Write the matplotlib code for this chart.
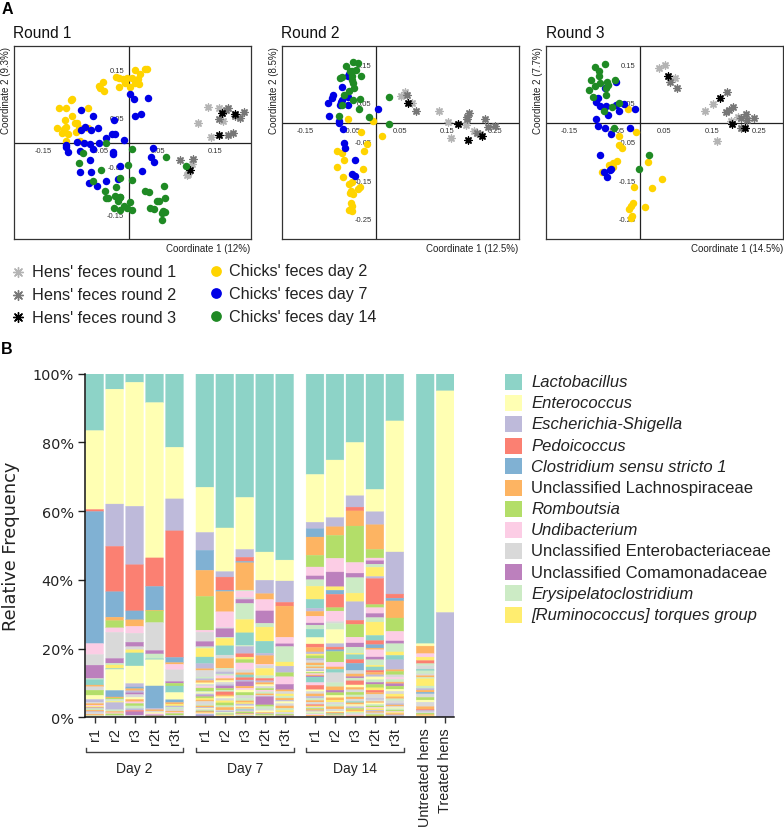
import matplotlib
matplotlib.use("Agg")
import matplotlib.pyplot as plt
import numpy as np

plt.rcParams["font.family"] = ["Liberation Sans", "DejaVu Sans"]

W, H = 784, 828

# panel A, coordinates
r1_day2_x = [.010, .028, .031, .019, -.023, -.017, -.010, -.004, .005, .015, -.007, -.017, .001, .010, .018, -.046, -.053, -.051, -.043, -.099, -.102, -.122, -.109, -.072, -.099, -.112, -.095, -.090, -.126, -.110, -.114, -.117, -.107, -.092, -.087, -.072, -.110, -.085]
r1_day2_y = [.152, .154, .154, .143, .137, .135, .132, .134, .134, .132, .124, .115, .115, .124, .121, .127, .117, .113, .107, .092, .088, .072, .072, .073, .056, .048, .041, .041, .032, .034, .029, .021, .019, .023, .030, .030, .005, .005]
r1_day7_x = [.002, .009, .033, .010, .020, -.083, -.063, -.027, -.077, -.083, -.067, -.054, -.030, -.024, -.040, -.009, -.091, -.110, -.110, -.078, -.068, -.053, -.063, -.085, -.107, -.068, -.085, -.066, -.028, -.028, -.016, .041, .038, .044, .023, -.041, -.069, -.055, -.019]
r1_day7_y = [.101, .091, .094, .055, .059, .068, .056, .047, .033, .026, .026, .032, .019, .019, .011, .006, .003, -.004, -.008, -.001, -.002, 0, -.012, -.016, -.019, -.036, -.059, -.059, -.018, -.023, -.048, -.011, -.030, -.039, -.058, -.079, -.083, -.089, -.075]
r1_day14_x = [-.041, .006, -.081, -.088, -.002, .065, .099, -.049, -.016, -.063, .006, -.042, -.022, .028, .034, .061, -.040, -.036, -.024, -.020, -.016, -.020, -.015, .048, .052, .063, .002, -.026, -.009, -.015, -.004, .006, .037, .044, .059, .058, .062, .058]
r1_day14_y = [-.001, -.013, -.021, -.041, -.046, -.030, -.047, -.056, -.072, -.079, -.076, -.100, -.092, -.099, -.101, -.088, -.114, -.114, -.109, -.116, -.112, -.119, -.111, -.121, -.119, -.114, -.123, -.135, -.130, -.139, -.135, -.138, -.134, -.137, -.140, -.145, -.143, -.159]
r1_hen1_x = [.138, .156, .121, .142, .163, .101, .103, .110]
r1_hen1_y = [.074, .072, .041, .013, .046, -.066, -.064, -.043]
r1_hen2_x = [.172, .169, .156, .184, .194, .201, .172, .181, .088, .112]
r1_hen2_y = [.072, .068, .050, .055, .051, .065, .017, .021, -.036, -.034]
r1_hen3_x = [.162, .185, .157, .106]
r1_hen3_y = [.062, .061, .016, -.056]

r2_day2_x = [-.060, -.006, -.032, .012, -.020, -.025, -.082, -.073, -.068, -.083, -.027, -.070, -.058, -.051, -.053, -.038, -.034, -.055, -.048, -.053, -.052, -.058, -.050]
r2_day2_y = [.011, .007, -.022, -.034, -.054, -.071, -.071, -.078, -.095, -.114, -.118, -.138, -.156, -.153, -.174, -.170, -.166, -.180, -.183, -.207, -.213, -.224, -.226]
r2_day7_x = [-.058, -.059, -.072, -.091, -.093, -.102, -.073, -.074, -.059, -.076, -.060, .003, -.100, -.078, -.079, -.069, -.067, -.065, -.044, -.051, -.044]
r2_day7_y = [.128, .122, .093, .072, .065, .052, .061, .056, .069, .047, .047, .037, .020, .005, 0, -.016, -.052, -.064, -.095, -.131, -.136]
r2_day14_x = [-.049, -.038, -.064, -.043, -.055, -.052, -.050, -.032, -.072, -.076, -.050, -.048, -.047, -.058, -.067, -.034, -.049, -.036, -.071, -.079, -.015, .027, .027]
r2_day14_y = [.159, .155, .149, .139, .136, .134, .123, .122, .119, .116, .112, .103, .092, .083, .073, .063, .059, .038, .047, .019, .017, .068, -.003]
r2_hen1_x = [.052, .060, .076, .133, .152, .158, .190, .205]
r2_hen1_y = [.071, .082, .053, .032, .004, -.039, -.004, -.019]
r2_hen2_x = [.065, .083, .195, .192, .191, .228, .236, .250, .213, .218]
r2_hen2_y = [.072, .031, .027, .015, .011, .010, -.009, -.008, -.026, -.028]
r2_hen3_x = [.067, .172, .194, .223]
r2_hen3_y = [.053, -.001, -.042, -.032]

r3_day2_x = [-.026, -.010, -.046, -.045, -.039, .015, -.050, -.057, -.067, -.057, -.082, .046, -.013, .025, .009, -.016, -.020, -.025, -.017, -.020]
r3_day2_y = [.037, -.023, -.034, -.056, -.063, -.100, -.098, -.104, -.107, -.114, -.127, -.144, -.166, -.168, -.216, -.206, -.213, -.222, -.239, -.245]
r3_day7_x = [-.052, -.075, -.090, -.094, -.085, -.073, -.052, -.034, -.046, -.012, -.069, -.093, -.090, -.075, -.023, -.062, -.085, -.062, -.065, -.077, -.070]
r3_day7_y = [.107, .090, .066, .054, .045, .044, .047, .050, .033, .036, .022, .010, -.008, -.012, -.011, -.029, -.083, -.117, -.122, -.127, -.140]
r3_day14_x = [-.075, -.095, -.087, -.088, -.104, -.053, -.086, -.095, -.071, -.069, -.073, -.109, -.073, -.101, -.076, -.060, -.045, -.055, .018, -.003]
r3_day14_y = [.152, .145, .136, .122, .112, .111, .104, .097, .106, .099, .091, .087, .072, .069, .033, .041, .053, -.012, -.082, -.118]
r3_hen1_x = [.040, .052, .072, .135, .153, .161, .191, .206]
r3_hen1_y = [.142, .151, .116, .032, .049, -.046, .006, .015]
r3_hen2_x = [.063, .077, .183, .194, .187, .181, .222, .211, .225, .240, .211]
r3_hen2_y = [.107, .091, .081, .041, .035, .029, .024, .013, .009, .014, -.012]
r3_hen3_x = [.058, .168, .193, .221]
r3_hen3_y = [.122, .066, -.003, -.012]

# panel B, (taxon colour index, percent) from the top of each bar downwards
taxa = ["Lactobacillus", "Enterococcus", "Escherichia-Shigella", "Pedoicoccus",
        "Clostridium sensu stricto 1", "Unclassified Lachnospiraceae", "Romboutsia",
        "Undibacterium", "Unclassified Enterobacteriaceae", "Unclassified Comamonadaceae",
        "Erysipelatoclostridium", "[Ruminococcus] torques group"]
taxa_italic = [True, True, True, True, True, False, True, True, False, False, True, True]
palette = ["#8dd3c7", "#ffffb3", "#bebada", "#fb8072", "#80b1d3", "#fdb462",
           "#b3de69", "#fccde5", "#d9d9d9", "#bc80bd", "#ccebc5", "#ffed6f"]

d2_r1 = [(0, 16.6), (1, 23), (3, .6), (4, 38.5), (7, 3.2), (8, 3.1), (9, 3.9), (10, .3), (0, 1.6), (5, .5), (8, 1), (6, 1.5), (1, 1.2), (2, .8), (8, .4), (5, .5), (7, .3), (11, .4), (9, .2), (10, .5), (5, .4), (2, .3), (8, .5), (5, .4), (10, .3), (8, .2)]
d2_r2 = [(0, 4.5), (1, 33.4), (2, 12.3), (3, 13.2), (4, 7.4), (5, 1), (6, 2.1), (7, 1.3), (8, 7.6), (9, 1.4), (10, .5), (11, 1), (0, .3), (1, 6.1), (4, 1.9), (5, .3), (6, .4), (8, .3), (10, .3), (11, .3), (2, 2.1), (10, .5), (5, .4), (7, .3), (6, .5), (8, .5)]
d2_r3 = [(0, 2.5), (1, 36), (2, 17), (3, 13.4), (4, 2.6), (5, 1.9), (7, 2), (8, 2.6), (9, 1.3), (8, .9), (11, .9), (0, 3.8), (1, 5.1), (2, 1), (4, .5), (5, .6), (2, .6), (9, .5), (8, .8), (1, .6), (5, .7), (7, .5), (6, .7), (10, .8), (2, .5), (3, .4), (9, 1), (8, .6)]
d2_r2t = [(0, 8.4), (1, 45.1), (3, 8.3), (4, 6.9), (5, .2), (6, 3.4), (8, 8.1), (9, 1), (10, 1.4), (0, .3), (1, 7.6), (4, 6.5), (2, .4), (5, .4), (8, .4), (1, .4), (7, .3), (9, .3), (6, .4)]
d2_r3t = [(0, 21.4), (1, 15), (2, 9.3), (3, 36.8), (4, 1.5), (5, .5), (7, 1.6), (8, 3.4), (9, .5), (6, .8), (0, 1.9), (1, 2.1), (4, .8), (5, .5), (11, .5), (2, .4), (10, .5), (8, .6), (5, .4), (7, .3), (6, .5), (8, .6)]
d7_r1 = [(0, 33), (1, 13.1), (2, 5.2), (4, 5.8), (5, 7.6), (6, 9.8), (7, .6), (8, 2.7), (9, 1.5), (10, .5), (11, 2.5), (0, 1.9), (2, 1.5), (5, .5), (8, 1.9), (10, .5), (2, .5), (5, .7), (1, .4), (8, .6), (7, .5), (6, .9), (10, .4), (1, .4), (2, .5), (9, .3), (6, .5), (11, .5), (5, .4), (8, 1), (10, .3), (5, .4), (2, .3), (1, .3), (8, .4), (6, .3), (3, .2), (11, .3), (7, .3), (4, .3), (9, .2), (8, .3)]
d7_r2 = [(0, 44.9), (1, 12.7), (2, 1.6), (3, 3.8), (4, .4), (5, 5.9), (7, 4.6), (8, .3), (9, 2.5), (10, .3), (11, 2.2), (0, 2.7), (8, 1), (5, 2.8), (10, .3), (8, .8), (2, .6), (10, .5), (7, .8), (5, .6), (1, .5), (8, .7), (2, .4), (9, .7), (6, .5), (10, .5), (3, .9), (5, .5), (1, .5), (8, .7), (11, .6), (6, .8), (10, .5), (5, .5), (5, .3), (8, .3), (2, .3), (1, .2), (10, .3), (6, .3), (7, .2), (11, .2), (8, .3)]
d7_r3 = [(0, 36.2), (1, 15.2), (2, 2.3), (3, 1.2), (4, .4), (5, 8), (10, .3), (7, 1.9), (8, .5), (9, 1.2), (10, 4.7), (11, 3.9), (0, 3.6), (10, .4), (2, 2.1), (3, 1), (11, .7), (6, 1), (7, 2), (8, .9), (5, .6), (0, .8), (3, .7), (2, .5), (9, 1.3), (5, .6), (7, .5), (1, .7), (6, .9), (8, .8), (10, .8), (5, .5), (11, .4), (2, .3), (8, .4), (1, .3), (5, .4), (10, .3), (4, .3), (7, .3), (6, .4), (9, .2), (11, .3), (8, .4), (5, .3)]
d7_r2t = [(0, 51.8), (1, 8.2), (2, 3.9), (5, 1.7), (7, 3.3), (9, 3.6), (10, 1.1), (11, 4.1), (0, 3.5), (2, .7), (5, 2.5), (7, .3), (8, .9), (11, 2.1), (10, .8), (3, .7), (2, .5), (5, .6), (1, .5), (8, .6), (6, .5), (7, .5), (10, .6), (5, .4), (8, .4), (9, 2.4), (6, .5), (10, .7), (8, .5), (1, .5), (5, .3), (2, .2), (6, .3), (8, .2), (11, .2), (10, .2)]
d7_r3t = [(0, 54.3), (1, 6.1), (2, 6.2), (3, 1.1), (5, 9.1), (7, 1.9), (9, .8), (10, 4.5), (11, 1.2), (2, 1.9), (6, 1.2), (7, 2.2), (9, 1.6), (5, .5), (8, .7), (11, .6), (10, .6), (5, .6), (2, .4), (1, .6), (8, .7), (5, .7), (10, .6), (11, .5), (8, .6), (6, .3), (2, .2), (5, .2), (8, .2)]
d14_r1 = [(0, 29.3), (1, 13.9), (2, 1.9), (4, 2.4), (5, 5.3), (6, 3.4), (7, 2.6), (9, 1.1), (10, 1.9), (11, 3.8), (0, 2.6), (2, .9), (5, 1.4), (7, 2), (9, .6), (10, 1.2), (0, 2.4), (1, 1.9), (3, 1), (5, 1.3), (2, .6), (11, .5), (6, .8), (2, .6), (8, .7), (5, .7), (10, .4), (5, .4), (8, .5), (2, .4), (1, .3), (6, .4), (7, .4), (5, .3), (9, .3), (0, 1.6), (7, .8), (3, 1.3), (1, .5), (8, .7), (5, .7), (2, .6), (10, .6), (5, .5), (8, .7), (3, .4), (11, .3), (8, .4), (6, .3), (5, .4), (2, .3), (1, .3), (10, .4), (7, .3), (5, .3), (8, .3)]
d14_r2 = [(0, 25.2), (1, 16.8), (2, 2.7), (5, 2.5), (6, 6.7), (7, 4), (9, 4.3), (11, 1), (4, 1.2), (3, 3.9), (6, 1), (7, 3.1), (8, .5), (10, 1.8), (1, 4.1), (2, 1), (3, .8), (4, .5), (6, 3.1), (7, 1.4), (5, .7), (0, 1), (8, 2.9), (10, 1.2), (5, 1), (9, .7), (6, .8), (1, .7), (5, .7), (11, .6), (8, .7), (10, .6), (5, .7), (8, .6), (1, .3), (5, .3), (2, .2), (6, .3), (8, .3), (5, .2), (10, .2)]
d14_r3 = [(0, 20), (1, 15.5), (2, 3.3), (3, 1.1), (5, 4.4), (6, 10.6), (7, 3.1), (9, 1.3), (10, 4.5), (11, 2.5), (2, 5.4), (3, 1.2), (6, 3.7), (7, 1.7), (9, 1.2), (10, 1.8), (11, .4), (0, 1.4), (3, 1.1), (4, 2.1), (8, 1), (5, .8), (9, .4), (10, .8), (3, 1.2), (1, .7), (5, .7), (8, .7), (6, .8), (10, .6), (5, .6), (8, .7), (0, .4), (5, .5), (1, .4), (8, .4), (2, .3), (6, .4), (5, .4), (11, .3), (10, .4), (8, .4), (7, .3), (5, .4)]
d14_r2t = [(0, 33.8), (1, 6.5), (2, 3.8), (5, 7.2), (6, 2.5), (7, .8), (9, 1), (10, .9), (11, 2.7), (2, .6), (3, 7.6), (6, .9), (7, 1.7), (9, 1.2), (10, 1.3), (11, 3.9), (0, 1.5), (3, 1.2), (4, 1), (5, .5), (7, 2.1), (9, .8), (10, 1.6), (11, .5), (0, 1), (3, .6), (5, .7), (2, .6), (1, .8), (10, .8), (9, .6), (6, 1), (11, .7), (3, .7), (5, .5), (8, 1.2), (2, .4), (8, .5), (5, .4), (1, .4), (10, .5), (6, .4), (7, .4), (11, .4), (2, .4), (5, .4), (8, .5), (6, .4), (5, .4)]
d14_r3t = [(0, 13.8), (1, 38.3), (2, 12.3), (3, 1.2), (4, .8), (5, 5), (6, 3.9), (7, 2.8), (9, .8), (10, 2.4), (11, 1), (0, 1.3), (2, 2.9), (5, .5), (6, 1), (8, .7), (7, .6), (10, .8), (5, .5), (9, .7), (6, .9), (1, .6), (8, .8), (11, .8), (5, .6), (10, .6), (8, .8), (2, .4), (5, .4), (8, .4), (1, .3), (10, .4), (6, .4), (7, .3), (11, .3), (5, .4), (2, .3), (8, .4)]
untreated = [(0, 78.5), (1, .7), (5, 2.2), (7, 1), (11, 1), (3, .9), (10, .6), (8, 1), (0, .5), (10, .9), (8, .5), (5, .5), (10, .4), (11, 2.1), (10, .7), (2, .5), (5, .6), (4, .5), (8, 1), (6, .8), (1, .6), (8, 1.3), (5, .8), (3, .3), (2, .4), (8, .4), (6, .4), (5, .4), (1, .4)]
treated = [(0, 5), (1, 64.5), (2, 30.5)]

bar_samples = [d2_r1, d2_r2, d2_r3, d2_r2t, d2_r3t, d7_r1, d7_r2, d7_r3, d7_r2t, d7_r3t,
               d14_r1, d14_r2, d14_r3, d14_r2t, d14_r3t, untreated, treated]
bar_pos = [0, 1, 2, 3, 4, 5.52, 6.52, 7.52, 8.52, 9.52, 11.04, 12.04, 13.04, 14.04, 15.04, 16.56, 17.56]
bar_labels = ["r1", "r2", "r3", "r2t", "r3t"] * 3 + ["Untreated hens", "Treated hens"]


def px_axes(left, top, right, bottom):
    return plt.gcf().add_axes([left / W, 1 - bottom / H, (right - left) / W, (bottom - top) / H])


def ordination(box, title, xlab, ylab, xlim, ylim, xticks, yticks, points):
    ax = px_axes(*box)
    hen1, hen2, hen3, day2, day7, day14 = points
    for (x, y), col in zip([hen1, hen2, hen3], ["#b4b4b4", "#777777", "#000000"]):
        ax.scatter(x, y, marker=(8, 2, 0), s=26, c=col, linewidths=1, zorder=3)
    for (x, y), col in zip([day2, day7, day14], ["#ffd400", "#0000e6", "#1f8a24"]):
        ax.scatter(x, y, s=29, c=col, linewidths=0, zorder=4)
    ax.axhline(0, color="#222222", lw=.9, zorder=2)
    ax.axvline(0, color="#222222", lw=.9, zorder=2)
    ax.set_xlim(xlim)
    ax.set_ylim(ylim)
    ax.set_xticks([])
    ax.set_yticks([])
    for s in ax.spines.values():
        s.set_linewidth(.9)
        s.set_color("#333333")
    for v in xticks:
        ax.annotate(f"{v:.2f}", (v, 0), xytext=(0, -5.5), textcoords="offset points", fontsize=5.5,
                    ha="center", va="center", color="#333333", zorder=2.5)
    for v in yticks:
        ax.annotate(f"{v:.2f}", (0, v), xytext=(-3.4, 0), textcoords="offset points", fontsize=5.5,
                    ha="right", va="center", color="#333333", zorder=2.5)
    fig.text((box[0] - 0.5) / W, 1 - 33 / H, title, fontsize=11.2, va="center", ha="left", color="#111111")
    fig.text(box[2] / W, 1 - 248.5 / H, xlab, fontsize=7, va="center", ha="right", color="#222222")
    fig.text((box[0] - 7.7) / W, 1 - box[1] / H, ylab, fontsize=7, rotation=90, va="top", ha="center", color="#222222")


fig = plt.figure(figsize=(W / 100, H / 100), dpi=100)

ordination((13.7, 47.3, 250.7, 240.2), "Round 1", "Coordinate 1 (12%)", "Coordinate 2 (9.3%)",
           (-.201, .212), (-.199, .2), [-.15, -.05, .05, .15], [.15, .05, -.05, -.15],
           [(r1_hen1_x, r1_hen1_y), (r1_hen2_x, r1_hen2_y), (r1_hen3_x, r1_hen3_y),
            (r1_day2_x, r1_day2_y), (r1_day7_x, r1_day7_y), (r1_day14_x, r1_day14_y)])
ordination((281.7, 47.3, 518.7, 240.3), "Round 2", "Coordinate 1 (12.5%)", "Coordinate 2 (8.5%)",
           (-.199, .3), (-.3, .199), [-.15, -.05, .05, .15, .25], [.15, .05, -.05, -.15, -.25],
           [(r2_hen1_x, r2_hen1_y), (r2_hen2_x, r2_hen2_y), (r2_hen3_x, r2_hen3_y),
            (r2_day2_x, r2_day2_y), (r2_day7_x, r2_day7_y), (r2_day14_x, r2_day14_y)])
ordination((546, 47.3, 783.3, 240.3), "Round 3", "Coordinate 1 (14.5%)", "Coordinate 2 (7.7%)",
           (-.199, .301), (-.3, .199), [-.15, -.05, .05, .15, .25], [.15, .05, -.05, -.15, -.25],
           [(r3_hen1_x, r3_hen1_y), (r3_hen2_x, r3_hen2_y), (r3_hen3_x, r3_hen3_y),
            (r3_day2_x, r3_day2_y), (r3_day7_x, r3_day7_y), (r3_day14_x, r3_day14_y)])

# stacked bars, thin matching edge closes the white seams between stripes
ax = px_axes(84.7, 374.7, 454.3, 718.3)
for x, segs in zip(bar_pos, bar_samples):
    total = sum(v for _, v in segs)
    top = 100.0
    for idx, v in segs:
        h = v / total * 100
        ax.bar(x, h, width=.89, bottom=top - h, color=palette[idx], edgecolor=palette[idx],
               linewidth=.25, snap=False)
        top -= h
ax.set_xlim(-.5, 18.02)
ax.set_ylim(0, 100)
ax.set_yticks(np.arange(0, 101, 20))
ax.set_yticklabels([f"{v}%" for v in range(0, 101, 20)], fontsize=10.4, family="DejaVu Sans", color="#222222")
ax.set_xticks(bar_pos)
ax.set_xticklabels(bar_labels, rotation=90, fontsize=10.4, color="#222222")
ax.tick_params(axis="x", length=4, width=1, color="#333333", pad=3)
ax.tick_params(axis="y", length=5, width=1, color="#222222", pad=3)
for s in ["top", "right"]:
    ax.spines[s].set_visible(False)
for s in ["left", "bottom"]:
    ax.spines[s].set_linewidth(1.1)
    ax.spines[s].set_color("#111111")
fig.text(11 / W, 1 - 546 / H, "Relative Frequency", rotation=90, fontsize=12.8, family="DejaVu Sans",
         ha="center", va="center", color="#222222")

trans = ax.get_xaxis_transform()
for first, last, label in [(0, 4, "Day 2"), (5, 9, "Day 7"), (10, 14, "Day 14")]:
    x0, x1 = bar_pos[first] - .45, bar_pos[last] + .45
    ax.plot([x0, x0, x1, x1], [-.089, -.102, -.102, -.089], transform=trans, clip_on=False,
            color="#444444", lw=1)
    ax.text((x0 + x1) / 2, -.148, label, transform=trans, ha="center", va="center", fontsize=10,
            color="#222222")

# legends and panel letters in pixel coordinates
over = fig.add_axes([0, 0, 1, 1], facecolor="none")
over.set_xlim(0, W)
over.set_ylim(H, 0)
over.axis("off")
over.text(2, 10, "A", fontsize=11.5, fontweight="bold", va="center")
over.text(1, 350, "B", fontsize=11.5, fontweight="bold", va="center")

hen_labels = ["Hens' feces round 1", "Hens' feces round 2", "Hens' feces round 3"]
chick_labels = ["Chicks' feces day 2", "Chicks' feces day 7", "Chicks' feces day 14"]
for i, (label, col) in enumerate(zip(hen_labels, ["#b4b4b4", "#777777", "#000000"])):
    y = 273 + 22.7 * i
    over.scatter(18, y, marker=(8, 2, 0), s=50, c=col, linewidths=1)
    over.text(32.5, y, label, fontsize=11.7, va="center", color="#222222")
for i, (label, col) in enumerate(zip(chick_labels, ["#ffd400", "#0000e6", "#1f8a24"])):
    y = 271.7 + 22.7 * i
    over.scatter(216, y, s=60, c=col, linewidths=0)
    over.text(229.5, y, label, fontsize=11.6, va="center", color="#222222")

legend_y = [382.7, 404, 425, 446.7, 467.3, 489, 510, 531, 551.7, 573.3, 594.3, 615.7]
for y, name, italic, col in zip(legend_y, taxa, taxa_italic, palette):
    over.add_patch(plt.Rectangle((505, y - 8), 17, 16, facecolor=col, edgecolor="none"))
    over.text(531, y, name, fontsize=12, va="center", color="#222222",
              style="italic" if italic else "normal")

fig.savefig("out.png", dpi=100)
